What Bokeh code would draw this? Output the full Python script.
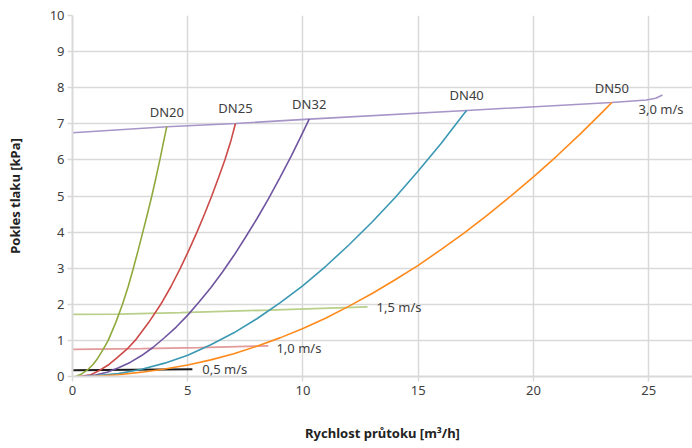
from bokeh.plotting import figure
from bokeh.models import Range1d, FixedTicker, ColumnDataSource
from bokeh.core.properties import value
from bokeh.embed import file_html
from bokeh.resources import INLINE

# ---- data ----
dn_names = ["DN20", "DN25", "DN32", "DN40", "DN50"]
dn20_x = [0.13, 0.4, 0.68, 0.9, 1.09, 1.33, 1.55, 1.88, 2.17, 2.42, 2.64, 2.85, 3.05, 3.25, 3.44, 3.62, 3.79, 3.95, 4.09]
dn20_y = [0.0, 0.07, 0.2, 0.34, 0.5, 0.75, 1.0, 1.5, 2.0, 2.5, 3.0, 3.5, 4.0, 4.5, 5.0, 5.5, 6.0, 6.5, 6.92]
dn25_x = [0.27, 0.8, 1.2, 1.6, 1.9, 2.35, 2.72, 3.31, 3.83, 4.28, 4.68, 5.05, 5.4, 5.73, 6.04, 6.33, 6.61, 6.86, 7.07]
dn25_y = [0.0, 0.05, 0.18, 0.34, 0.5, 0.75, 1.0, 1.5, 2.0, 2.5, 3.0, 3.5, 4.0, 4.5, 5.0, 5.5, 6.0, 6.5, 7.01]
dn32_x = [0.42, 1, 1.5, 2, 2.5, 3, 3.5, 4, 4.5, 5, 5.5, 6, 6.5, 7, 7.5, 8, 8.5, 9, 9.5, 10, 10.27]
dn32_y = [0.0, 0.04, 0.12, 0.24, 0.39, 0.58, 0.81, 1.08, 1.37, 1.7, 2.07, 2.46, 2.89, 3.35, 3.85, 4.37, 4.92, 5.51, 6.12, 6.77, 7.13]
dn40_x = [0.63, 2, 3, 4, 5, 6, 7, 8, 9, 10, 11, 12, 13, 14, 15, 16, 17, 17.1]
dn40_y = [0.0, 0.08, 0.2, 0.37, 0.59, 0.88, 1.21, 1.6, 2.04, 2.52, 3.06, 3.65, 4.28, 4.96, 5.69, 6.46, 7.29, 7.37]
dn50_x = [0.78, 2, 3, 4, 5, 6, 7, 8, 9, 10, 11, 12, 13, 14, 15, 16, 17, 18, 19, 20, 21, 22, 23, 23.4]
dn50_y = [0.0, 0.05, 0.12, 0.21, 0.32, 0.46, 0.63, 0.84, 1.07, 1.33, 1.62, 1.95, 2.3, 2.68, 3.08, 3.52, 3.98, 4.47, 4.99, 5.53, 6.1, 6.7, 7.33, 7.59]

vel_names = ["0,5 m/s", "1,0 m/s", "1,5 m/s", "3,0 m/s"]
v05_x = [0.0, 5.2]
v05_y = [0.17, 0.2]
v10_x = [0.0, 3.0, 5.5, 8.5]
v10_y = [0.75, 0.77, 0.80, 0.85]
v15_x = [0.0, 2.0, 4.7, 8.5, 12.8]
v15_y = [1.72, 1.73, 1.77, 1.84, 1.93]
v30_x = [0.0, 4.09, 7.07, 10.27, 17.1, 23.4, 24.9, 25.3, 25.6]
v30_y = [6.75, 6.92, 7.01, 7.13, 7.37, 7.59, 7.66, 7.71, 7.8]

x_ticks = [0, 5, 10, 15, 20, 25]
y_ticks = [0, 1, 2, 3, 4, 5, 6, 7, 8, 9, 10]

# ---- styles ----
FONT = "Noto Sans"
TXT = "#404040"
GRID = "#d9d9d9"
dn_colors = ["#8faa3c", "#cc4a47", "#6f55a0", "#3a98b2", "#ff8a1c"]
vel_colors = ["#1a1a1a", "#e29a9a", "#b9cf8a", "#a795c8"]
vel_widths = [2.0, 1.8, 1.8, 1.6]
vel_xoff = [10, 8, 9, -24]
vel_yoff = [0, 2, 0, 14]

p = figure(width=692, height=448, output_backend="svg", toolbar_location=None,
           x_range=Range1d(0, 26.9), y_range=Range1d(0, 10),
           min_border_left=72, min_border_top=15, min_border_right=0,
           min_border_bottom=72)
p.outline_line_color = None
p.background_fill_color = "white"

for ax in (p.xaxis[0], p.yaxis[0]):
    ax.axis_line_color = GRID
    ax.axis_line_width = 2
    ax.major_tick_line_color = GRID
    ax.major_tick_line_width = 1.5
    ax.major_tick_out = 5
    ax.major_tick_in = 0
    ax.minor_tick_line_color = None
    ax.major_label_text_font = FONT
    ax.major_label_text_font_size = "13px"
    ax.major_label_text_color = TXT
    ax.axis_label_text_font = FONT
    ax.axis_label_text_font_size = "13px"
    ax.axis_label_text_font_style = "bold"
    ax.axis_label_text_color = "#222222"

p.xaxis.ticker = FixedTicker(ticks=x_ticks)
p.yaxis.ticker = FixedTicker(ticks=y_ticks)
p.xaxis.major_label_standoff = 4
p.yaxis.major_label_standoff = 3
p.xaxis.axis_label = "Rychlost průtoku [m³/h]"
p.yaxis.axis_label = "Pokles tlaku [kPa]"
p.xaxis.axis_label_standoff = 26
p.yaxis.axis_label_standoff = 23

p.xgrid.ticker = FixedTicker(ticks=x_ticks)
p.ygrid.ticker = FixedTicker(ticks=y_ticks)
p.grid.grid_line_color = GRID
p.grid.grid_line_width = 1.5

# velocity lines
vel_series = [(v05_x, v05_y), (v10_x, v10_y), (v15_x, v15_y), (v30_x, v30_y)]
for (xs, ys), c, w in zip(vel_series, vel_colors, vel_widths):
    p.line(xs, ys, line_color=c, line_width=w)

# DN curves
dn_series = [(dn20_x, dn20_y), (dn25_x, dn25_y), (dn32_x, dn32_y),
             (dn40_x, dn40_y), (dn50_x, dn50_y)]
for (xs, ys), c in zip(dn_series, dn_colors):
    p.line(xs, ys, line_color=c, line_width=1.6)

# DN labels at curve ends
dn_src = ColumnDataSource(dict(x=[s[0][-1] for s in dn_series],
                               y=[s[1][-1] for s in dn_series],
                               t=dn_names))
p.text(x="x", y="y", text="t", source=dn_src, text_align="center",
       text_baseline="middle", y_offset=-15, text_font=value(FONT),
       text_font_size="13px", text_color=TXT)

# velocity labels
vel_src = ColumnDataSource(dict(x=[s[0][-1] for s in vel_series],
                                y=[s[1][-1] for s in vel_series],
                                t=vel_names, xo=vel_xoff, yo=vel_yoff))
p.text(x="x", y="y", text="t", source=vel_src, text_align="left",
       text_baseline="middle", x_offset="xo", y_offset="yo",
       text_font=value(FONT), text_font_size="13px", text_color=TXT)

open("out.html", "w").write(file_html(p, INLINE))
